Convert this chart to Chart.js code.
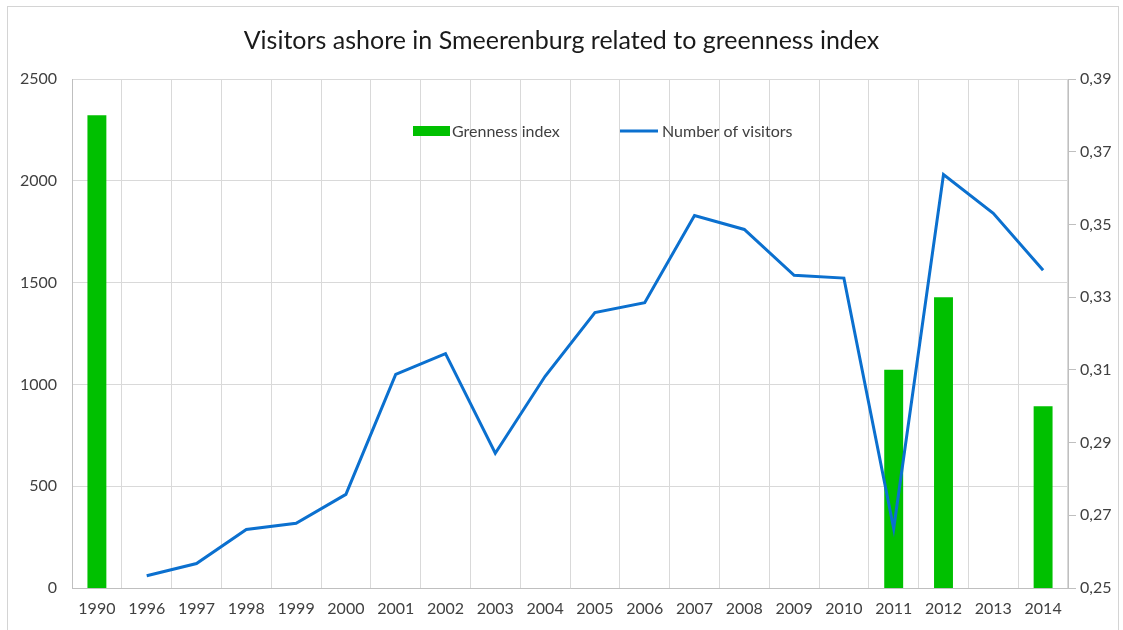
<!DOCTYPE html>
<html>
<head>
<meta charset="utf-8">
<script src="https://cdn.jsdelivr.net/npm/chart.js@4"></script>
<style>
  html, body { margin: 0; padding: 0; background: #fff; }
  #wrap { position: relative; width: 1123px; height: 630px; overflow: hidden; }
  #frame { position: absolute; left: 7px; top: 6px; width: 1112px; height: 640px; border: 1px solid #d4d4d4; box-sizing: border-box; pointer-events: none; }
  canvas { position: absolute; left: 0; top: 0; }
</style>
</head>
<body>
<div id="wrap">
  <canvas id="c" width="1123" height="630"></canvas>
  <div id="frame"></div>
</div>
<script>
const categories = ['1990','1996','1997','1998','1999','2000','2001','2002','2003','2004','2005','2006','2007','2008','2009','2010','2011','2012','2013','2014'];
const visitors = [null, 60, 120, 287, 318, 460, 1049, 1151, 662, 1040, 1353, 1401, 1829, 1761, 1536, 1522, 292, 2031, 1840, 1561];
const greenness = [0.38, null, null, null, null, null, null, null, null, null, null, null, null, null, null, null, 0.31, 0.33, null, 0.30];
const leftTicks = [0, 500, 1000, 1500, 2000, 2500];
const rightTicks = [0.25, 0.27, 0.29, 0.31, 0.33, 0.35, 0.37, 0.39];
const titleText = 'Visitors ashore in Smeerenburg related to greenness index';
const greenLabel = 'Grenness index';
const visitorsLabel = 'Number of visitors';

const GREEN = '#00c000';
const BLUE = '#0b70cf';
const FONT = 'Lato, "Open Sans", sans-serif';

const legendPlugin = {
  id: 'innerLegend',
  afterDraw(chart) {
    const ctx = chart.ctx;
    const ca = chart.chartArea;
    const y = ca.top + 52;
    ctx.save();
    ctx.font = '16px ' + FONT;
    ctx.textBaseline = 'middle';
    const ds0 = chart.data.datasets[0];
    const ds1 = chart.data.datasets[1];
    let x = 413;
    ctx.fillStyle = ds0.backgroundColor;
    ctx.fillRect(x, y - 5, 37, 10);
    ctx.fillStyle = '#404040';
    ctx.textAlign = 'left';
    ctx.fillText(ds0.label, x + 39, y + 1);
    x = 620;
    ctx.strokeStyle = ds1.borderColor;
    ctx.lineWidth = 3;
    ctx.beginPath();
    ctx.moveTo(x, y);
    ctx.lineTo(x + 38, y);
    ctx.stroke();
    ctx.fillText(ds1.label, x + 42, y + 1);
    ctx.restore();
  }
};

new Chart(document.getElementById('c'), {
  type: 'bar',
  data: {
    labels: categories,
    datasets: [
      {
        type: 'bar',
        label: greenLabel,
        data: greenness,
        yAxisID: 'y1',
        backgroundColor: GREEN,
        borderWidth: 0,
        barPercentage: 0.76,
        categoryPercentage: 0.5,
        order: 2
      },
      {
        type: 'line',
        label: visitorsLabel,
        data: visitors,
        yAxisID: 'y',
        borderColor: BLUE,
        backgroundColor: BLUE,
        borderWidth: 3,
        pointRadius: 0,
        tension: 0,
        spanGaps: false,
        order: 1
      }
    ]
  },
  options: {
    responsive: false,
    animation: false,
    layout: { padding: { left: 0, right: 0, top: 0, bottom: 0 } },
    plugins: {
      legend: { display: false },
      tooltip: { enabled: false },
      title: {
        display: true,
        text: titleText,
        color: '#1a1a1a',
        font: { family: FONT, size: 25, weight: 'normal' },
        padding: { top: 26, bottom: 23 }
      }
    },
    scales: {
      x: {
        offset: true,
        grid: { offset: true, color: '#d9d9d9', drawTicks: false, lineWidth: 1 },
        border: { color: '#bfbfbf' },
        ticks: { color: '#404040', font: { family: FONT, size: 16 }, padding: 11, maxRotation: 0, autoSkip: false },
        afterFit(scale) { scale.height = 42; }
      },
      y: {
        position: 'left',
        min: 0,
        max: 2500,
        grid: { color: '#d9d9d9', drawTicks: false },
        border: { color: '#bfbfbf' },
        afterBuildTicks(axis) { axis.ticks = leftTicks.map(v => ({ value: v })); },
        ticks: { color: '#404040', font: { family: FONT, size: 16 }, padding: 15, callback: v => String(v) },
        afterFit(scale) { scale.width = 72; }
      },
      y1: {
        position: 'right',
        min: 0.25,
        max: 0.39,
        grid: { drawOnChartArea: false, color: '#bfbfbf', tickLength: 8 },
        border: { color: '#bfbfbf' },
        afterBuildTicks(axis) { axis.ticks = rightTicks.map(v => ({ value: v })); },
        ticks: {
          color: '#404040',
          font: { family: FONT, size: 16 },
          padding: 4,
          callback: v => v.toFixed(2).replace('.', ',')
        },
        afterFit(scale) { scale.width = 55; }
      }
    }
  },
  plugins: [legendPlugin]
});
</script>
</body>
</html>
